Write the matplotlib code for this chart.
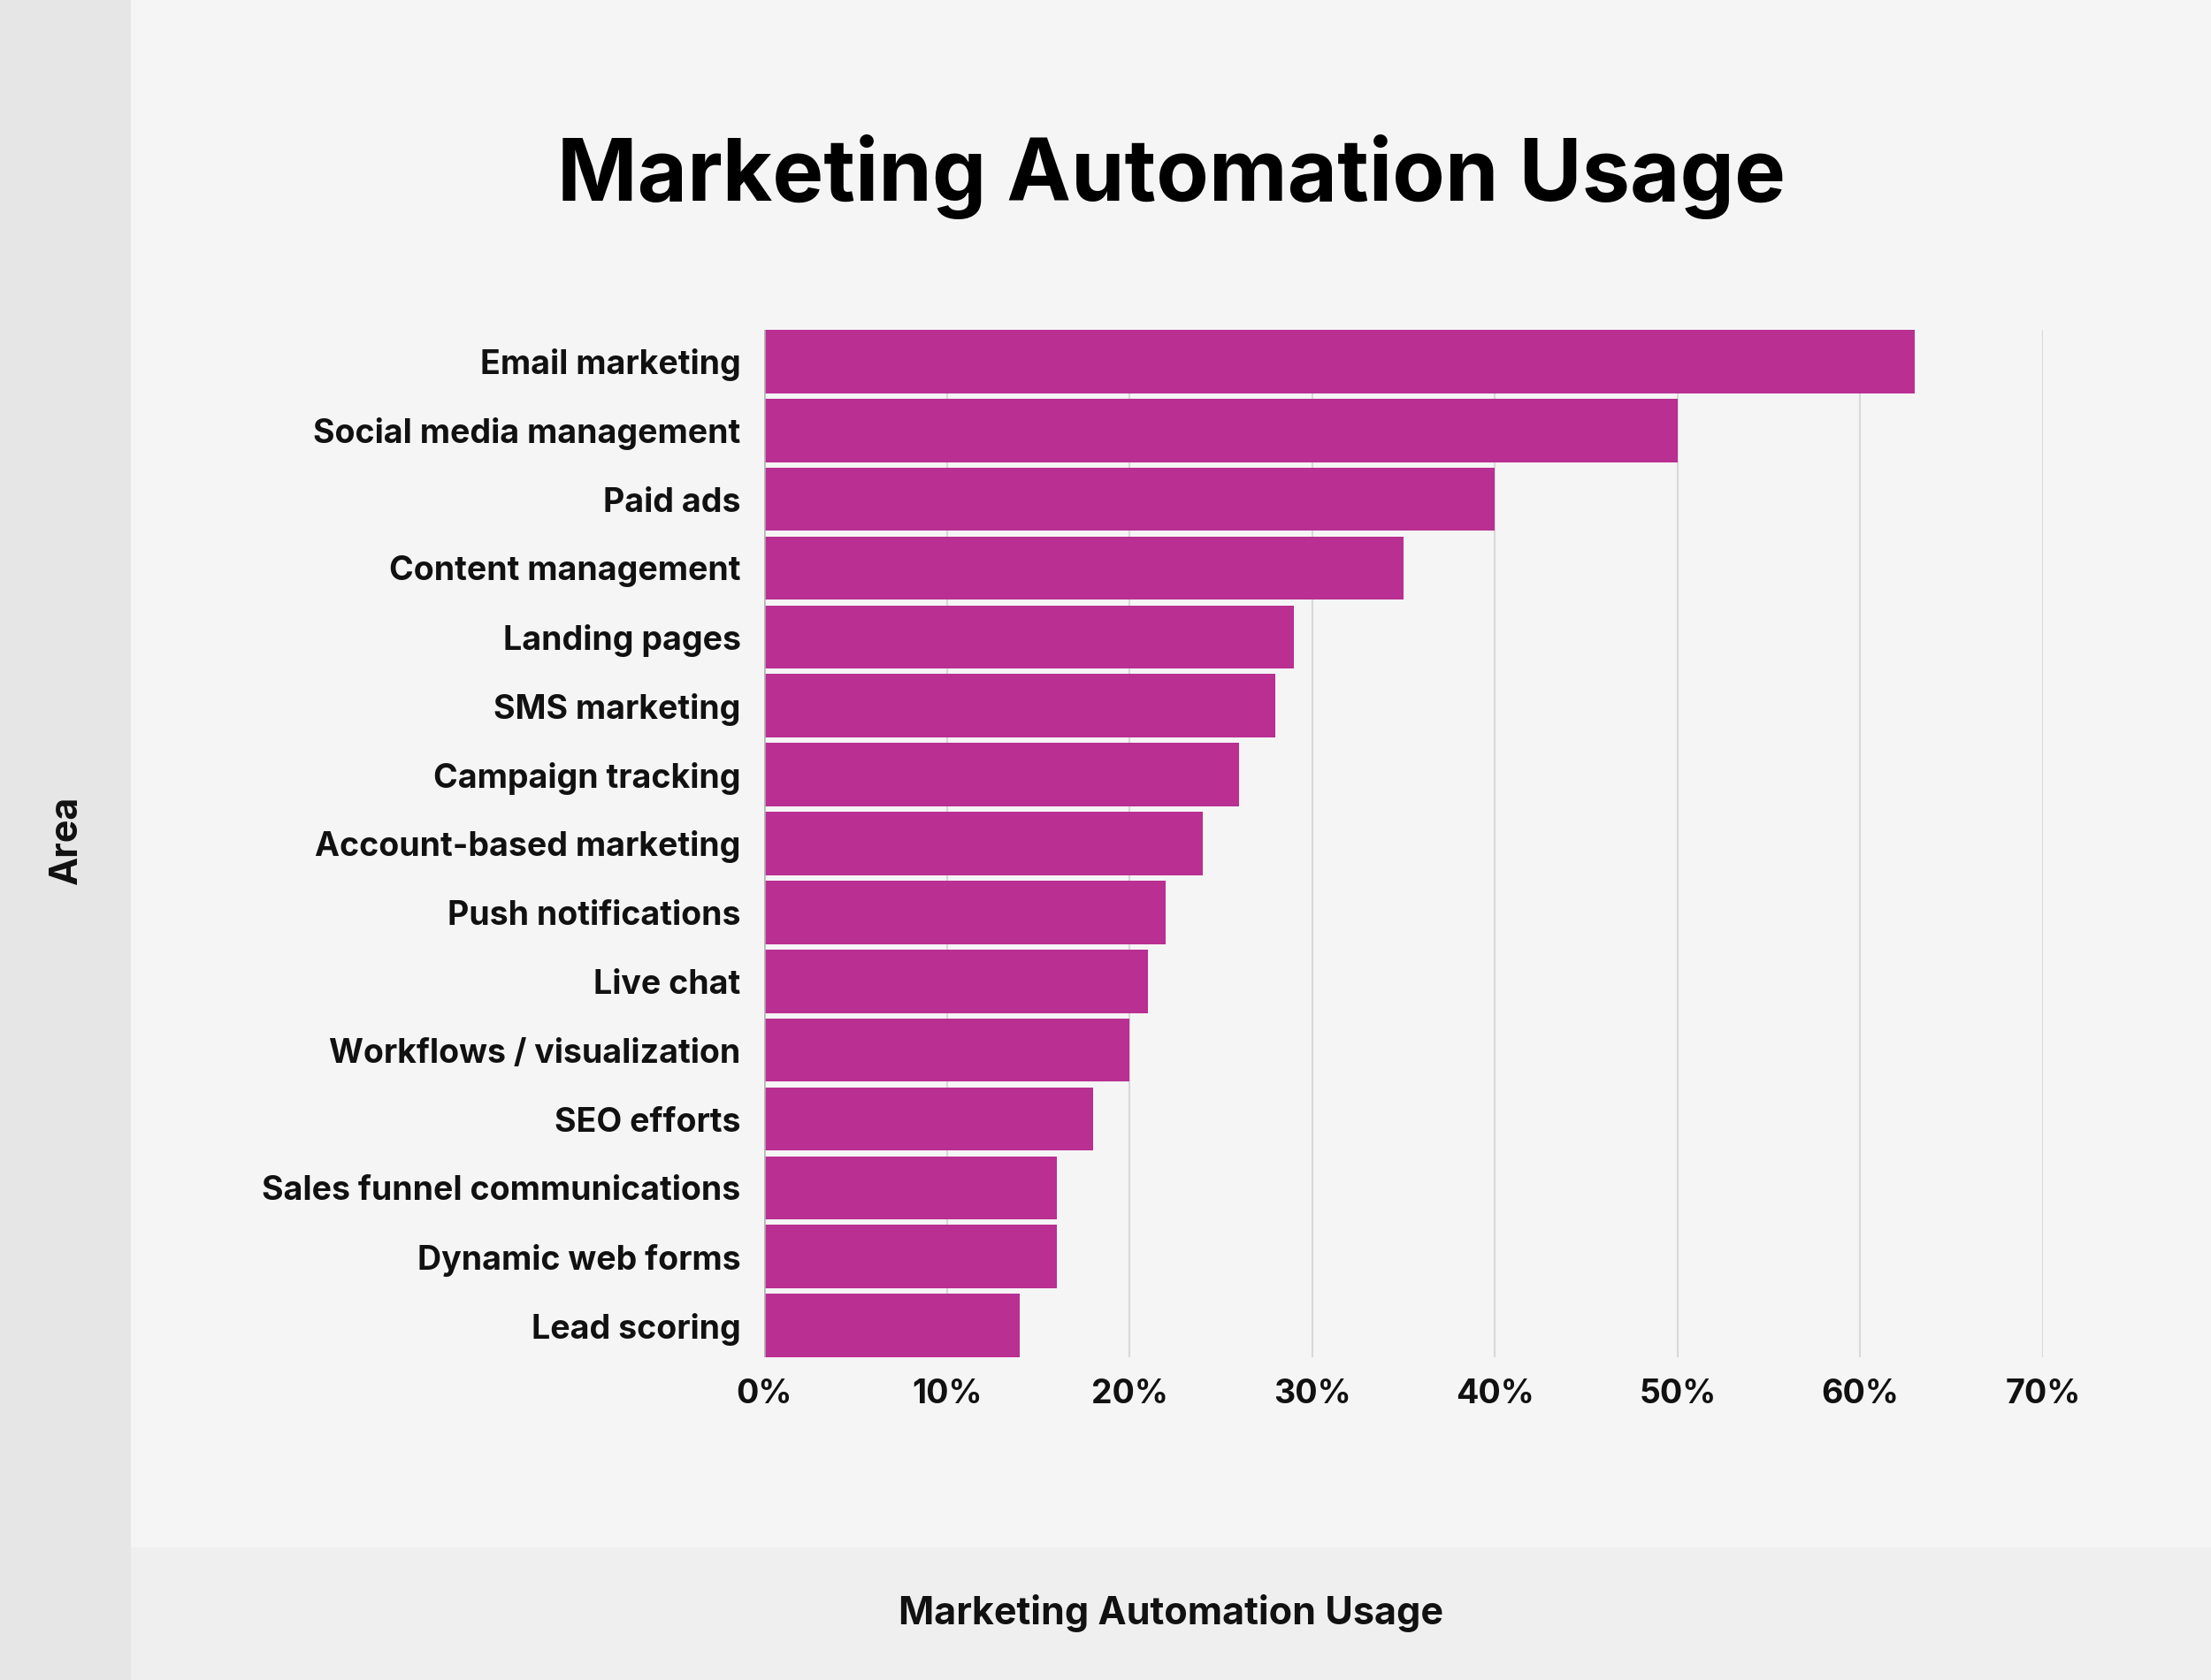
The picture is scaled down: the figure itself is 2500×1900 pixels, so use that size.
import matplotlib
matplotlib.use("Agg")
import matplotlib.pyplot as plt
from matplotlib.patches import Rectangle

categories = [
    "Email marketing", "Social media management", "Paid ads", "Content management",
    "Landing pages", "SMS marketing", "Campaign tracking", "Account-based marketing",
    "Push notifications", "Live chat", "Workflows / visualization", "SEO efforts",
    "Sales funnel communications", "Dynamic web forms", "Lead scoring",
]
values = [63, 50, 40, 35, 29, 28, 26, 24, 22, 21, 20, 18, 16, 16, 14]
x_ticks = [0, 10, 20, 30, 40, 50, 60, 70]
x_tick_labels = ["0%", "10%", "20%", "30%", "40%", "50%", "60%", "70%"]

title = "Marketing Automation Usage"
x_label = "Marketing Automation Usage"
y_label = "Area"

plt.rcParams['font.family'] = ['Inter', 'DejaVu Sans']

W, H = 2500, 1900
fig = plt.figure(figsize=(W / 100, H / 100), dpi=100)
fig.patch.set_facecolor("#f5f5f5")

# background panels
fig.add_artist(Rectangle((0, 0), 148 / W, 1, transform=fig.transFigure,
                         facecolor="#e6e6e6", edgecolor="none", zorder=0))
fig.add_artist(Rectangle((148 / W, 0), 1 - 148 / W, 150 / H, transform=fig.transFigure,
                         facecolor="#efefef", edgecolor="none", zorder=0))

left, right, top, bottom = 864 / W, 2310 / W, 1 - 373 / H, 1 - 1535 / H
ax = fig.add_axes([left, bottom, right - left, top - bottom])
ax.set_facecolor("none")

ypos = list(range(len(categories)))
bh = 0.92
ax.barh(ypos, values, height=bh, color="#b92f92", edgecolor="none", zorder=3)

ax.set_xlim(0, 70)
ax.set_ylim(len(categories) - 1 + bh / 2, -bh / 2)

ax.set_xticks(x_ticks)
ax.set_xticklabels(x_tick_labels)
ax.set_yticks(ypos)
ax.set_yticklabels(categories)

for t in ax.get_xticklabels() + ax.get_yticklabels():
    t.set_fontweight("bold")
    t.set_fontsize(27)
    t.set_color("#111111")

ax.tick_params(axis="x", length=0, pad=17)
ax.tick_params(axis="y", length=0, pad=19)

for s in ax.spines.values():
    s.set_visible(False)

ax.grid(axis="x", color="#d8d8d8", linewidth=1.5, zorder=0)
ax.grid(axis="y", visible=False)
ax.axvline(0, color="#b5b5b5", linewidth=1.8, zorder=4)

fig.text((148 + W) / 2 / W, 1 - 200 / H, title, ha="center", va="center",
         fontsize=70, fontweight="bold", color="#000000")
fig.text((148 + W) / 2 / W, 1 - 1824 / H, x_label, ha="center", va="center",
         fontsize=31, fontweight="bold", color="#111111")
fig.text(75 / W, 1 - 950 / H, y_label, ha="center", va="center", rotation=90,
         fontsize=31, fontweight="bold", color="#111111")

fig.savefig("out.png", dpi=100, facecolor=fig.get_facecolor())
